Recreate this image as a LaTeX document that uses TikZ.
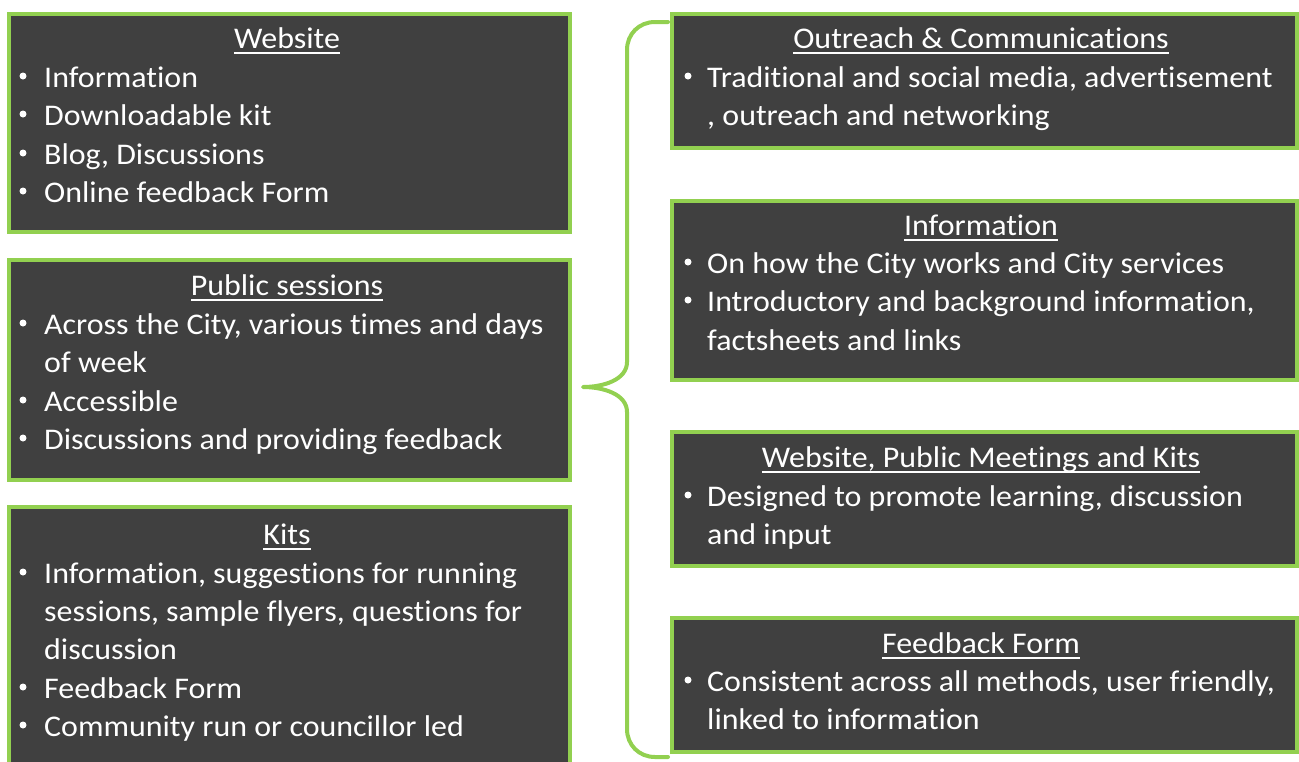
\documentclass[tikz,border=0pt]{standalone}
\usepackage{fontspec}
\setmainfont{Carlito}[FakeStretch=1.065, Ligatures=NoCommon]
\definecolor{boxfill}{HTML}{404040}
\definecolor{boxgreen}{HTML}{92D050}
\newcommand\myul[1]{\setbox0\hbox{#1}\rlap{\rule[-6pt]{\wd0}{1.8pt}}\box0}
\tikzset{
  box/.style={draw=boxgreen, fill=boxfill, line width=4pt, rectangle, anchor=north west, inner sep=0pt},
  txt/.style={text=white, font=\fontsize{30}{36}\selectfont, inner sep=0pt, anchor=base west},
  ttl/.style={text=white, font=\fontsize{30}{36}\selectfont, inner sep=0pt, anchor=base},
  bul/.style={fill=white, circle, inner sep=0pt, minimum size=7pt},
  brace/.style={draw=boxgreen, line width=4pt, line cap=round, line join=round}
}
\begin{document}
\begin{tikzpicture}[x=1pt,y=-1pt]
\useasboundingbox (0,0) rectangle (1299,761);
\clip (0,0) rectangle (1299,761);
\fill[white] (0,0) rectangle (1299,761);
% left boxes
\node[box, minimum width=561pt, minimum height=218pt] (web) at (7,12) {};
\node[box, minimum width=561pt, minimum height=220pt] (pub) at (7,258) {};
\node[box, minimum width=561pt, minimum height=275pt] (kits) at (7,505) {};
% right boxes
\node[box, minimum width=625pt, minimum height=134pt] (out) at (670,12) {};
\node[box, minimum width=625pt, minimum height=179pt] (info) at (670,199) {};
\node[box, minimum width=625pt, minimum height=134pt] (wpmk) at (670,430) {};
\node[box, minimum width=625pt, minimum height=134pt] (fb) at (670,616) {};
% brace
\coordinate (bt) at (668,22);
\coordinate (tip) at (583,387);
\coordinate (bb) at (668,757);
\draw[brace] (bt) -- (655,22) .. controls (639,22) and (627,34) .. (627,50)
  -- (627,362) .. controls (627,380) and (603,387) .. (tip)
  .. controls (603,387) and (627,394) .. (627,412)
  -- (627,729) .. controls (627,745) and (639,757) .. (655,757) -- (bb);
% Website
\node[ttl] (t1) at (287,48) {\myul{Website}};
\node[bul] (b11) at (23,76) {}; \node[txt] (l11) at (44,87) {Information};
\node[bul] (b12) at (23,114) {}; \node[txt] (l12) at (44,125) {Downloadable kit};
\node[bul] (b13) at (23,153) {}; \node[txt] (l13) at (44,164) {Blog, Discussions};
\node[bul] (b14) at (23,191) {}; \node[txt] (l14) at (44,202) {Online feedback Form};
% Public sessions
\node[ttl] (t2) at (287,295) {\myul{Public sessions}};
\node[bul] (b21) at (23,323) {}; \node[txt] (l21) at (44,334) {Across the City, various times and days};
\node[txt] (l22) at (44,372) {of week};
\node[bul] (b23) at (23,400) {}; \node[txt] (l23) at (44,411) {Accessible};
\node[bul] (b24) at (23,438) {}; \node[txt] (l24) at (44,449) {Discussions and providing feedback};
% Kits
\node[ttl] (t3) at (287,544) {\myul{Kits}};
\node[bul] (b31) at (23,572) {}; \node[txt] (l31) at (44,583) {Information, suggestions for running};
\node[txt] (l32) at (44,621) {sessions, sample flyers, questions for};
\node[txt] (l33) at (44,659) {discussion};
\node[bul] (b34) at (23,687) {}; \node[txt] (l34) at (44,698) {Feedback Form};
\node[bul] (b35) at (23,725) {}; \node[txt] (l35) at (44,736) {Community run or councillor led};
% Outreach
\node[ttl] (t4) at (981,48) {\myul{Outreach \& Communications}};
\node[bul] (b41) at (688,76) {}; \node[txt] (l41) at (707,87) {Traditional and social media, advertisement};
\node[txt] (l42) at (707,125) {, outreach and networking};
% Information
\node[ttl] (t5) at (981,235) {\myul{Information}};
\node[bul] (b51) at (688,262) {}; \node[txt] (l51) at (707,273) {On how the City works and City services};
\node[bul] (b52) at (688,300) {}; \node[txt] (l52) at (707,311) {Introductory and background information,};
\node[txt] (l53) at (707,350) {factsheets and links};
% WPMK
\node[ttl] (t6) at (981,467) {\myul{Website, Public Meetings and Kits}};
\node[bul] (b61) at (688,495) {}; \node[txt] (l61) at (707,506) {Designed to promote learning, discussion};
\node[txt] (l62) at (707,544) {and input};
% Feedback
\node[ttl] (t7) at (981,653) {\myul{Feedback Form}};
\node[bul] (b71) at (688,680) {}; \node[txt] (l71) at (707,691) {Consistent across all methods, user friendly,};
\node[txt] (l72) at (707,729) {linked to information};
\end{tikzpicture}
\end{document}
